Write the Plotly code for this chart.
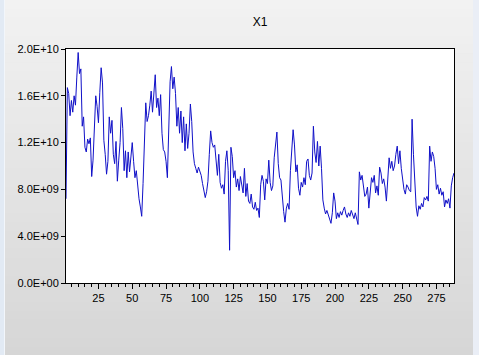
import plotly.graph_objects as go

# X1 series values, in units of 1e9
x1_bn = [
    7.2, 16.7, 16.2, 14.3, 15.6, 14.6, 16.0, 15.2, 17.6, 19.7,
    17.9, 18.3, 13.4, 14.2, 11.6, 11.2, 12.3, 11.9, 12.4, 9.1,
    10.5, 14.2, 16.0, 15.1, 13.7, 16.3, 18.4, 17.1, 12.2, 11.0,
    9.3, 10.4, 14.2, 12.8, 13.9, 11.0, 10.2, 12.1, 8.7, 10.5,
    12.0, 15.0, 13.2, 9.6, 11.3, 9.0, 11.2, 9.5, 10.8, 12.0,
    10.4, 9.0, 9.6, 8.0, 7.2, 6.5, 5.7, 8.5, 12.7, 15.4,
    13.8, 14.3, 15.2, 16.4, 14.6, 16.0, 17.8, 15.0, 15.8, 14.3,
    16.1, 12.8, 11.4, 11.2, 10.4, 9.0, 12.5, 17.2, 18.5, 16.6,
    17.6, 16.2, 13.4, 15.0, 12.8, 14.7, 12.0, 14.2, 11.3, 13.6,
    11.5, 12.8, 15.3, 13.8, 11.2, 10.2, 9.8, 9.4, 9.9, 9.6,
    9.2, 8.5, 7.9, 7.3, 7.8, 8.7, 11.0, 13.0, 12.0, 11.6,
    11.8, 10.2, 9.2, 11.0, 8.6, 8.1, 8.4, 7.6, 10.4, 11.3,
    9.6, 2.8, 11.6, 10.8, 9.0, 9.6, 8.2, 8.9, 7.9, 9.1,
    8.3, 7.7, 9.8, 7.4, 8.5, 7.0, 6.8, 7.6, 6.5, 6.3,
    6.9, 6.2, 6.4, 5.6, 8.4, 9.2, 8.7, 7.1, 8.9, 8.5,
    10.5, 8.6, 7.9, 8.3, 10.7, 12.0, 12.9, 10.2, 9.0, 8.8,
    7.2, 6.1, 5.2, 6.4, 6.8, 6.3, 9.6, 12.0, 13.1, 11.8,
    9.5, 10.1, 8.1, 7.5, 8.6, 8.2, 9.0, 8.4, 10.4, 10.6,
    9.2, 8.8, 9.4, 13.4, 11.2, 10.3, 12.1, 10.0, 11.7, 9.8,
    7.1, 6.4, 5.9, 6.2, 5.8, 5.4, 5.1, 6.0, 7.7, 7.0,
    5.5, 6.0, 5.6, 6.1, 5.8, 6.2, 6.5, 5.9, 5.6, 6.0,
    5.7, 6.2, 5.8, 5.5, 6.0, 5.4, 5.0, 9.5, 8.8, 9.2,
    8.1, 7.4, 7.6, 8.2, 6.4, 7.8, 9.0, 8.6, 9.2, 7.7,
    8.3, 7.5, 9.9, 9.4, 8.5, 8.9, 8.2, 7.0, 8.6, 10.7,
    9.8, 10.4, 9.6, 10.0, 11.0, 11.7, 10.2, 11.3, 9.8, 8.6,
    8.0, 7.6, 8.4, 8.2, 7.9, 7.8, 14.0, 11.0, 8.2, 6.5,
    5.7, 6.6, 6.3, 6.8, 6.5, 7.3, 7.1, 7.4, 7.0, 11.7,
    10.4, 11.2, 10.8, 9.8, 8.0, 8.4, 7.6, 8.1, 7.5, 7.8,
    6.5, 7.1, 6.8, 7.2, 6.4, 8.3, 9.0, 9.4,
]
obs = list(range(1, len(x1_bn) + 1))
x1 = [v * 1e9 for v in x1_bn]

y_tickvals = [0, 4e9, 8e9, 12e9, 16e9, 20e9]
y_ticktext = ["0.0E+00", "4.0E+09", "8.0E+09", "1.2E+10", "1.6E+10", "2.0E+10"]
x_tickvals = [25, 50, 75, 100, 125, 150, 175, 200, 225, 250, 275]
title_text = "X1"

W, H = 479, 355
ML, MR, MT, MB = 66, 25, 49, 72

fig = go.Figure()
fig.add_trace(go.Scatter(x=obs, y=x1, mode="lines",
                         line=dict(color="#1010c8", width=1),
                         showlegend=False, hoverinfo="skip"))

# gradient background built from thin paper-referenced strips
shapes = []
n_strips = 40
pw = W - ML - MR
ph = H - MT - MB
def px_to_paper_x(px):
    return (px - ML) / pw
def px_to_paper_y(py):
    return (H - MB - py) / ph
for i in range(n_strips):
    y0 = i * H / n_strips
    y1 = (i + 1) * H / n_strips + 0.5
    t = (y0 + y1) / 2 / H
    g = int(round(242 - (242 - 214) * t))
    col = f"rgb({g},{g},{g})"
    shapes.append(dict(type="rect", xref="paper", yref="paper",
                       x0=px_to_paper_x(0), x1=px_to_paper_x(W),
                       y0=px_to_paper_y(y1), y1=px_to_paper_y(y0),
                       fillcolor=col, line=dict(width=0), layer="below"))
# left frame strip
shapes.append(dict(type="rect", xref="paper", yref="paper",
                   x0=px_to_paper_x(0), x1=px_to_paper_x(5),
                   y0=px_to_paper_y(H), y1=px_to_paper_y(0),
                   fillcolor="#e2eaf4", line=dict(width=0), layer="below"))
shapes.append(dict(type="rect", xref="paper", yref="paper",
                   x0=px_to_paper_x(4), x1=px_to_paper_x(5),
                   y0=px_to_paper_y(H), y1=px_to_paper_y(0),
                   fillcolor="#f2f6fb", line=dict(width=0), layer="below"))
# right frame strip
shapes.append(dict(type="rect", xref="paper", yref="paper",
                   x0=px_to_paper_x(473), x1=px_to_paper_x(W),
                   y0=px_to_paper_y(H), y1=px_to_paper_y(0),
                   fillcolor="#eaeef6", line=dict(width=0), layer="below"))
# white plot area
shapes.append(dict(type="rect", xref="paper", yref="paper",
                   x0=0, x1=1, y0=0, y1=1,
                   fillcolor="white", line=dict(width=0), layer="below"))

fig.update_layout(
    width=W, height=H,
    margin=dict(l=ML, r=MR, t=MT, b=MB),
    paper_bgcolor="#e6e6e6",
    plot_bgcolor="rgba(0,0,0,0)",
    shapes=shapes,
    font=dict(family="Liberation Sans, Arial, sans-serif", size=11, color="black"),
    title=dict(text=title_text, x=(ML + pw / 2) / W, xanchor="center",
               y=1 - 22 / H, yanchor="middle",
               font=dict(size=12, color="black")),
)
fig.update_xaxes(range=[1, len(obs)], showgrid=False, zeroline=False,
                 showline=True, linecolor="black", linewidth=1, mirror=True,
                 tickmode="array", tickvals=x_tickvals,
                 ticks="outside", ticklen=5, tickcolor="black", tickwidth=1,
                 minor=dict(tickmode="linear", tick0=0, dtick=5, ticks="outside",
                            ticklen=3, tickcolor="black", tickwidth=1, showgrid=False),
                 tickfont=dict(size=11))
fig.update_yaxes(range=[0, 2e10], showgrid=False, zeroline=False,
                 showline=True, linecolor="black", linewidth=1, mirror=True,
                 tickmode="array", tickvals=y_tickvals, ticktext=y_ticktext,
                 ticks="outside", ticklen=4, tickcolor="black", tickwidth=1,
                 tickfont=dict(size=11))

fig.write_html("out.html")
